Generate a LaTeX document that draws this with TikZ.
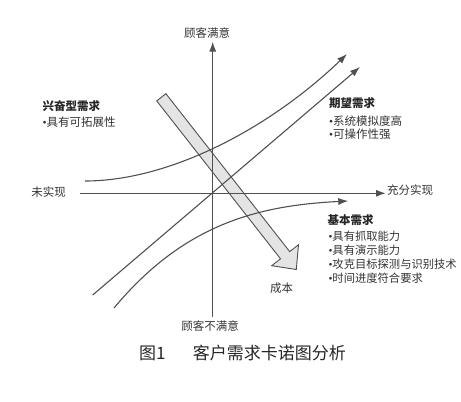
\documentclass[tikz,border=0pt]{standalone}
\usepackage{fontspec}
\setmainfont{Noto Sans CJK SC}
\newfontfamily\bulletfont{Liberation Serif}
\newcommand{\bul}{{\bulletfont •}}
\usetikzlibrary{arrows.meta}
\definecolor{linec}{HTML}{505050}
\definecolor{fillc}{HTML}{E4E4E4}
\definecolor{textc}{HTML}{333333}
\tikzset{
  axisline/.style={draw=linec, line width=1.4pt, -{Latex[length=10pt,width=7pt]}},
  curveline/.style={draw=linec, line width=1.1pt, -{Latex[length=10pt,width=7pt]}},
  bigarrow/.style={draw=linec, line width=0.9pt, fill=fillc, line join=miter},
  lbl/.style={inner sep=0pt, text=textc, font=\fontsize{11.5}{13.9}\selectfont},
  hdr/.style={inner sep=0pt, anchor=west, text=black!85, font=\fontsize{11.5}{13.9}\selectfont\bfseries},
  itemblock/.style={inner sep=0pt, anchor=west, align=left, text=textc},
  captext/.style={inner sep=0pt, anchor=west, text=black!85, font=\fontsize{17}{20}\selectfont}
}
\begin{document}
\begin{tikzpicture}[x=1pt,y=-1pt]
\useasboundingbox (0,0) rectangle (461,402);
% big cost arrow (under the lines)
\coordinate (a1) at (165.9,93.7);
\coordinate (a2) at (289.7,251.6);
\coordinate (a3) at (298.5,244.7);
\coordinate (a4) at (296.3,269.5);
\coordinate (a5) at (271.7,265.7);
\coordinate (a6) at (280.5,258.8);
\coordinate (a7) at (156.7,100.9);
\draw[bigarrow] (a1) -- (a2) -- (a3) -- (a4) -- (a5) -- (a6) -- (a7) -- cycle;
% axes
\coordinate (xs) at (80,193.3);
\coordinate (xe) at (386,193.3);
\coordinate (ys) at (212.7,317);
\coordinate (ye) at (212.7,41.5);
\draw[axisline] (xs) -- (xe);
\draw[axisline] (ys) -- (ye);
% curves
\coordinate (e0) at (85,181);
\coordinate (e1) at (347,54);
\coordinate (l0) at (92.7,295);
\coordinate (l1) at (360,67);
\coordinate (b0) at (114,308);
\coordinate (b1) at (348.3,201);
\draw[curveline] (e0) .. controls (170,181) and (270,128) .. (e1);
\draw[curveline] (l0) -- (l1);
\draw[curveline] (b0) .. controls (184,224) and (258,205.5) .. (b1);
% axis labels
\node[lbl] (top) at (207,33.3) {顾客满意};
\node[lbl] (bottom) at (210,326) {顾客不满意};
\node[lbl] (left) at (48.7,192.5) {未实现};
\node[lbl] (right) at (410,190.5) {充分实现};
\node[lbl] (cost) at (281.7,288.3) {成本};
% requirement blocks
\node[hdr] (h1) at (42.5,106) {兴奋型需求};
\node[lbl, anchor=west] (i1) at (42.5,122) {\bul 具有可拓展性};
\node[hdr] (h2) at (329,103) {期望需求};
\node[lbl, itemblock, font=\fontsize{11.5}{13.5}\selectfont] (i2) at (329,127.8) {\bul 系统模拟度高\\\bul 可操作性强};
\node[hdr] (h3) at (327.5,220) {基本需求};
\node[lbl, itemblock, font=\fontsize{11.3}{13.9}\selectfont] (i3) at (328.3,257.4) {\bul 具有抓取能力\\\bul 具有演示能力\\\bul 攻克目标探测与识别技术\\\bul 时间进度符合要求};
% caption
\node[captext] (c1) at (139,353.3) {图1};
\node[captext] (c2) at (192.7,353.3) {客户需求卡诺图分析};
\end{tikzpicture}
\end{document}
